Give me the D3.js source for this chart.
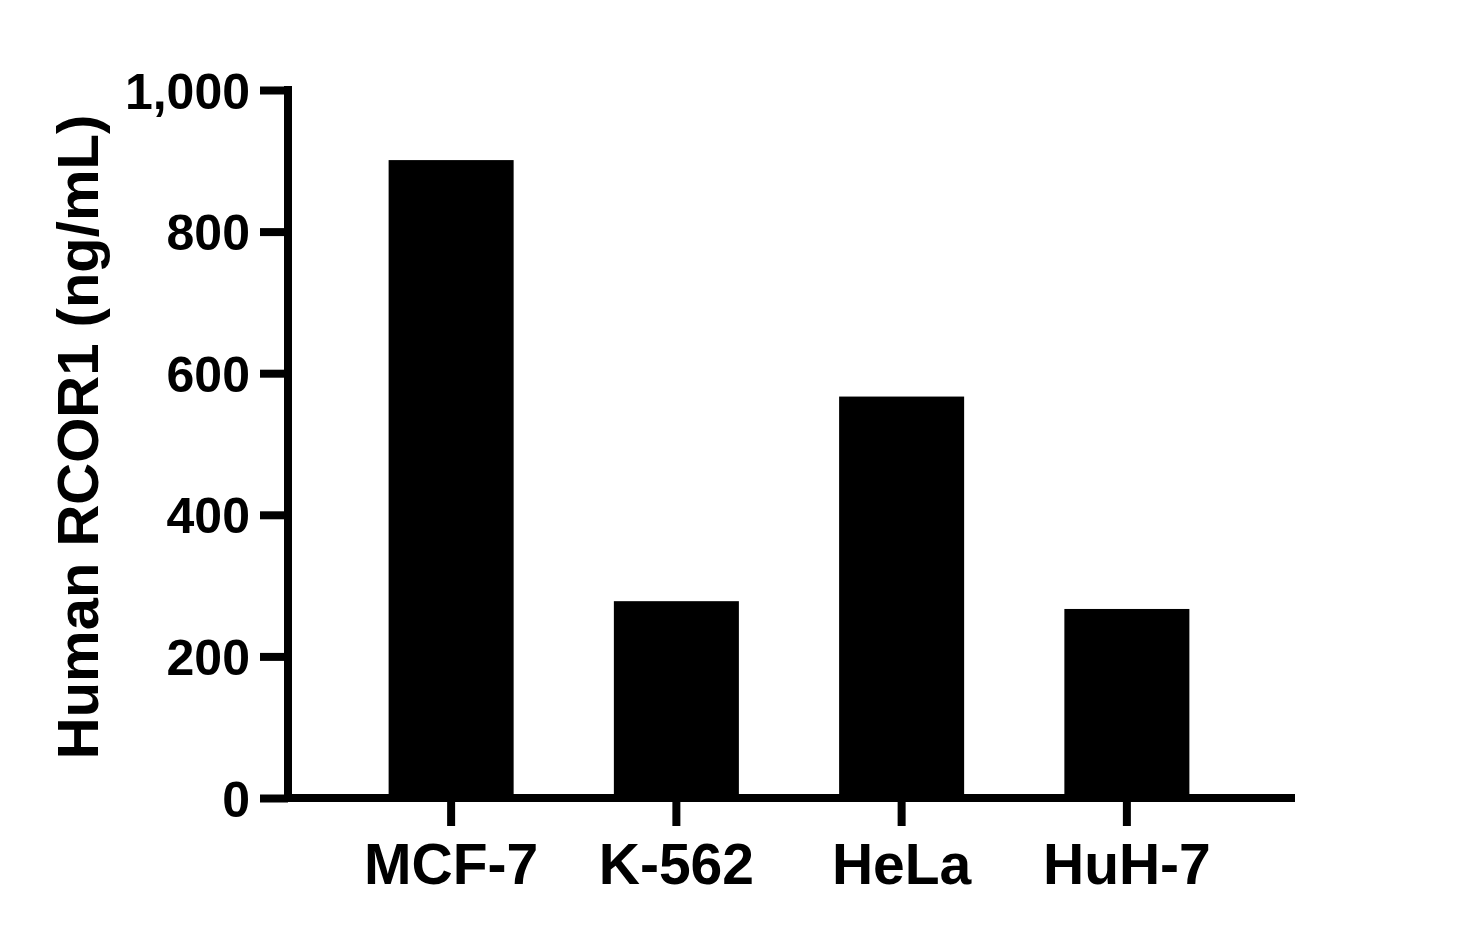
<!DOCTYPE html>
<html>
<head>
<meta charset="utf-8">
<script src="https://cdn.jsdelivr.net/npm/d3@7"></script>
<style>
  body { margin: 0; background: #fff; }
  text { font-family: "Liberation Sans", Arial, sans-serif; font-weight: bold; fill: #000; }
</style>
</head>
<body>
<svg id="chart" width="1471" height="938"></svg>
<script>
var cellLines = ["MCF-7", "K-562", "HeLa", "HuH-7"];
var rcor1Values = [901, 278, 567, 267];
var yTicks = [0, 200, 400, 600, 800, 1000];
var yTitle = "Human RCOR1 (ng/mL)";

var axisX = 288,
    axisY = 798,
    axisRight = 1295,
    axisTop = 86,
    lineWidth = 8,
    tickLen = 28;

var svg = d3.select("#chart");

var y = d3.scaleLinear()
    .domain([0, 1000])
    .range([axisY, 90]);

var x = d3.scaleBand()
    .domain(cellLines)
    .range([338.5, 1239.5])
    .paddingInner(0.445)
    .paddingOuter(0.2225);

// bars
svg.append("g")
    .selectAll("rect")
    .data(cellLines)
    .enter()
    .append("rect")
    .attr("x", function(d) { return x(d); })
    .attr("y", function(d, i) { return y(rcor1Values[i]); })
    .attr("width", x.bandwidth())
    .attr("height", function(d, i) { return axisY - y(rcor1Values[i]); })
    .style("fill", "#000");

// y axis
var yAxis = d3.axisLeft(y)
    .tickValues(yTicks)
    .tickSize(tickLen)
    .tickPadding(10)
    .tickFormat(d3.format(","));

svg.append("g")
    .attr("transform", "translate(" + axisX + ",0)")
    .call(yAxis)
    .call(function(g) {
        g.select(".domain").remove();
        g.selectAll(".tick line").attr("stroke", "#000").attr("stroke-width", lineWidth);
        g.selectAll(".tick text")
            .attr("font-size", 50)
            .attr("font-family", null)
            .attr("dy", "0.36em");
    });

svg.append("line")
    .attr("x1", axisX).attr("x2", axisX)
    .attr("y1", axisTop).attr("y2", axisY + lineWidth / 2)
    .attr("stroke", "#000")
    .attr("stroke-width", lineWidth);

// x axis
var xAxis = d3.axisBottom(x)
    .tickSize(tickLen)
    .tickPadding(18);

svg.append("g")
    .attr("transform", "translate(0," + axisY + ")")
    .call(xAxis)
    .call(function(g) {
        g.select(".domain").remove();
        g.selectAll(".tick line").attr("stroke", "#000").attr("stroke-width", lineWidth);
        g.selectAll(".tick text")
            .attr("font-size", 57)
            .attr("font-family", null)
            .attr("dy", "0.71em");
    });

svg.append("line")
    .attr("x1", axisX - lineWidth / 2).attr("x2", axisRight)
    .attr("y1", axisY).attr("y2", axisY)
    .attr("stroke", "#000")
    .attr("stroke-width", lineWidth);

// y title
svg.append("text")
    .attr("transform", "translate(98," + 437 + ") rotate(-90)")
    .attr("text-anchor", "middle")
    .attr("font-size", 58)
    .text(yTitle);
</script>
</body>
</html>
